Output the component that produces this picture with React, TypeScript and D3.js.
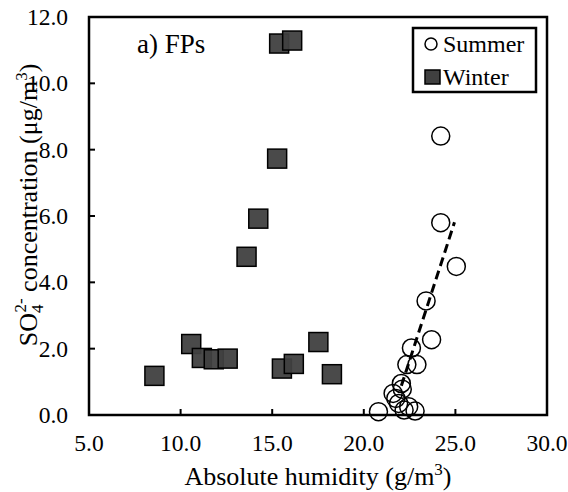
import React from "react";
import * as d3 from "d3";

const summerX = [20.8, 21.6, 21.75, 21.9, 22.05, 22.1, 22.2, 22.45, 22.8, 22.35, 22.9, 22.6, 23.7, 23.4, 25.05, 24.2, 24.2];
const summerY = [0.1, 0.65, 0.5, 0.35, 0.95, 0.78, 0.15, 0.25, 0.12, 1.52, 1.52, 2.02, 2.27, 3.44, 4.48, 5.8, 8.41];
const winterX = [8.57, 10.58, 11.16, 11.81, 12.57, 13.6, 14.24, 15.27, 15.38, 16.09, 15.53, 16.18, 17.52, 18.26];
const winterY = [1.18, 2.14, 1.72, 1.68, 1.7, 4.77, 5.92, 7.73, 11.2, 11.29, 1.4, 1.54, 2.2, 1.23];
const fitX = [22.05, 24.95];
const fitY = [0.88, 5.81];
const xTicks = [5, 10, 15, 20, 25, 30];
const yTicks = [0, 2, 4, 6, 8, 10, 12];

const W = 568, H = 492;
const L = 89, R = 547, T = 17, B = 415;
const FONT = "Liberation Serif";

export default function App() {
  const x = d3.scaleLinear().domain([5, 30]).range([L, R]);
  const y = d3.scaleLinear().domain([0, 12]).range([B, T]);
  const line = d3.line<number>().x((_, i) => x(fitX[i])).y((_, i) => y(fitY[i]));
  const sq = 19;
  const ts = { fontFamily: FONT };
  return (
    <svg width={W} height={H} style={{ position: "absolute", left: 0, top: 0, background: "#fff" }}>
      <rect x={0} y={0} width={W} height={H} fill="#fff" />
      {winterX.map((v, i) => (
        <rect key={"w" + i} x={x(v) - sq / 2} y={y(winterY[i]) - sq / 2} width={sq} height={sq}
          fill="#404040" fillOpacity={0.95} stroke="#000" strokeWidth={1.5} />
      ))}
      {summerX.map((v, i) => (
        <circle key={"s" + i} cx={x(v)} cy={y(summerY[i])} r={9} fill="none" stroke="#000" strokeWidth={1.5} />
      ))}
      <path d={line(fitX) || ""} stroke="#000" strokeWidth={3} strokeDasharray="9,5" fill="none" />
      <rect x={L} y={T} width={R - L} height={B - T} fill="none" stroke="#000" strokeWidth={2.5} />
      {xTicks.map((t) => (
        <g key={"xt" + t}>
          <line x1={x(t)} x2={x(t)} y1={B} y2={B - 6} stroke="#000" strokeWidth={2} />
          <text style={ts} x={x(t)} y={451} textAnchor="middle" fontSize={23.5}>{t.toFixed(1)}</text>
        </g>
      ))}
      {yTicks.map((t) => (
        <g key={"yt" + t}>
          <line x1={L} x2={L + 6} y1={y(t)} y2={y(t)} stroke="#000" strokeWidth={2} />
          <text style={ts} x={68} y={y(t) + 8} textAnchor="end" fontSize={23.5}>{t.toFixed(1)}</text>
        </g>
      ))}
      <text style={ts} x={(L + R) / 2} y={485} textAnchor="middle" fontSize={26}>
        Absolute humidity (g/m<tspan dy={-10} fontSize={17}>3</tspan><tspan dy={10}>)</tspan>
      </text>
      <text style={ts} transform={`translate(37,205) rotate(-90)`} textAnchor="middle" fontSize={26}>
        SO<tspan dy={6} fontSize={17}>4</tspan><tspan dx={-8} dy={-17} fontSize={17}>2-</tspan><tspan dy={11}> concentration (μg/m</tspan><tspan dy={-10} fontSize={17}>3</tspan><tspan dy={10}>)</tspan>
      </text>
      <text style={ts} x={137} y={53} fontSize={27}>a) FPs</text>
      <rect x={413} y={28} width={123} height={64} fill="#fff" stroke="#000" strokeWidth={2.5} />
      <circle cx={431} cy={44} r={6} fill="none" stroke="#000" strokeWidth={1.5} />
      <text style={ts} x={443} y={52} fontSize={24}>Summer</text>
      <rect x={425} y={70} width={15} height={14} fill="#404040" stroke="#000" strokeWidth={1.5} />
      <text style={ts} x={443} y={85} fontSize={24}>Winter</text>
    </svg>
  );
}
